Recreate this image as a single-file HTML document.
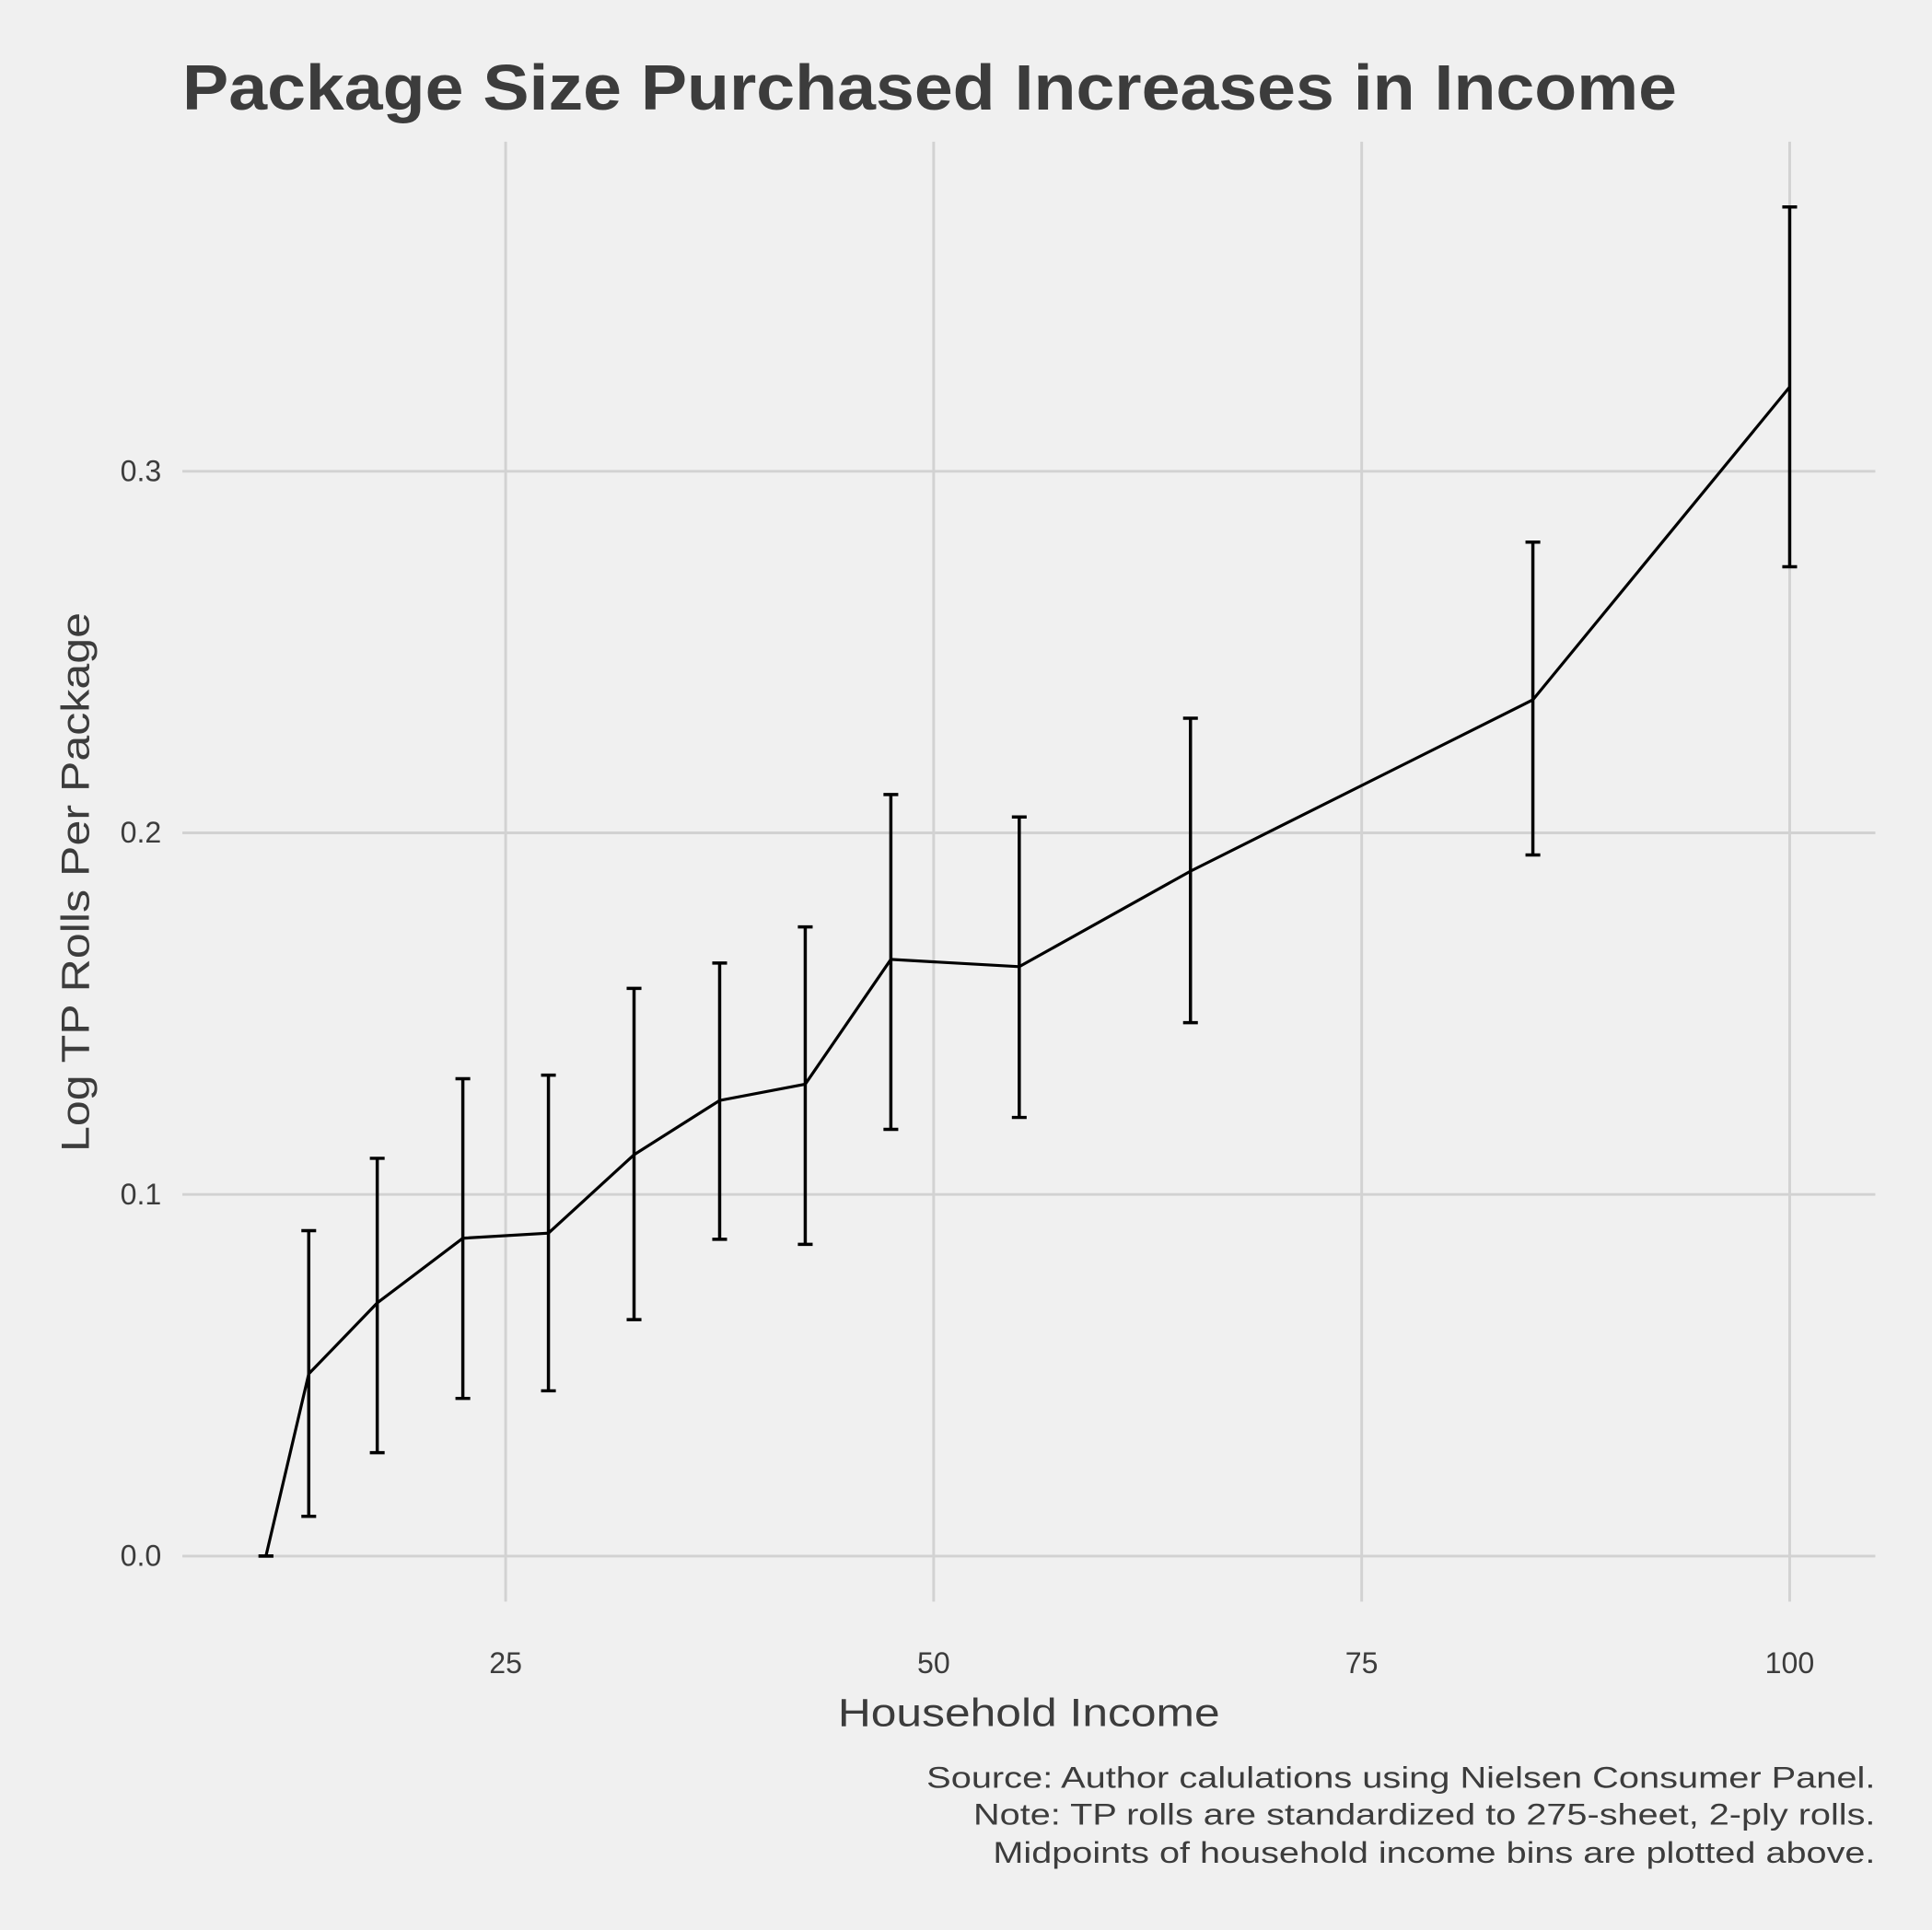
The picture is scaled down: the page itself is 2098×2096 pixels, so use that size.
<!DOCTYPE html>
<html><head><meta charset="utf-8"><style>
html,body{margin:0;padding:0;background:#f0f0f0;}
svg{display:block;font-family:"Liberation Sans",sans-serif;}
</style></head><body>
<svg id="chart" width="2098" height="2096" viewBox="0 0 1568 1566.5" xmlns="http://www.w3.org/2000/svg">
<rect x="0" y="0" width="1568" height="1567" fill="#f0f0f0"/>
<text x="148" y="89" font-size="52" font-weight="bold" fill="#3c3c3c" textLength="1213" lengthAdjust="spacingAndGlyphs">Package Size Purchased Increases in Income</text>
<g id="grid"></g>
<g id="marks"></g>
<text x="835" y="1401" font-size="32" fill="#3c3c3c" text-anchor="middle" textLength="310" lengthAdjust="spacingAndGlyphs">Household Income</text>
<text transform="translate(72,716) rotate(-90)" font-size="32" fill="#3c3c3c" text-anchor="middle" textLength="438" lengthAdjust="spacingAndGlyphs">Log TP Rolls Per Package</text>
<g font-size="24" fill="#3c3c3c" text-anchor="end">
<text x="1522" y="1451" textLength="770" lengthAdjust="spacingAndGlyphs">Source: Author calulations using Nielsen Consumer Panel.</text>
<text x="1522" y="1481" textLength="732" lengthAdjust="spacingAndGlyphs">Note: TP rolls are standardized to 275-sheet, 2-ply rolls.</text>
<text x="1522" y="1512" textLength="716" lengthAdjust="spacingAndGlyphs">Midpoints of household income bins are plotted above.</text>
</g>
</svg>
<script>
const incomes=[11,13.5,17.5,22.5,27.5,32.5,37.5,42.5,47.5,55,65,85,100];
const means=[0,0.0504,0.070,0.0879,0.0893,0.111,0.126,0.1305,0.165,0.163,0.1894,0.2368,0.3233];
const uppers=[0,0.090,0.110,0.132,0.133,0.157,0.164,0.174,0.2106,0.2044,0.2317,0.2804,0.3731];
const lowers=[0,0.011,0.0286,0.0436,0.0457,0.0654,0.0876,0.0862,0.118,0.1213,0.1475,0.1939,0.2736];
const xTicks=[25,50,75,100];
const xTickLabels=["25","50","75","100"];
const yTicks=[0,0.1,0.2,0.3];
const yTickLabels=["0.0","0.1","0.2","0.3"];
const NS="http://www.w3.org/2000/svg";
const xs=v=>63+v*13.895;
const ys=v=>1263-v*2935;
function mk(tag,attrs,parent){const e=document.createElementNS(NS,tag);for(const k in attrs)e.setAttribute(k,attrs[k]);parent.appendChild(e);return e;}
const grid=document.getElementById('grid'),marks=document.getElementById('marks'),svg=document.getElementById('chart');
const L=148,R=1522,T=115,B=1300;
xTicks.forEach((t,i)=>{
 const l=mk('line',{x1:xs(t),x2:xs(t),y1:T,y2:B,stroke:'#d2d2d2','stroke-width':2.2},grid);
 
 
 const tx=mk('text',{x:xs(t),y:1358,'font-size':24,fill:'#3c3c3c','text-anchor':'middle'},svg);
 tx.textContent=xTickLabels[i];
 
 
});
yTicks.forEach((t,i)=>{
 const l=mk('line',{x1:L,x2:R,y1:ys(t),y2:ys(t),stroke:'#d2d2d2','stroke-width':2.2},grid);
 
 
 const tx=mk('text',{x:131,y:ys(t)+8,'font-size':24,fill:'#3c3c3c','text-anchor':'end'},svg);
 tx.textContent=yTickLabels[i];
 
 
});
const pts=incomes.map((v,i)=>xs(v)+','+ys(means[i])).join(' ');
const pl=mk('polyline',{points:pts,fill:'none',stroke:'#000','stroke-width':2.4},marks);


incomes.forEach((v,i)=>{
 const x=xs(v),yu=ys(uppers[i]),yl=ys(lowers[i]);
 const g=mk('g',{stroke:'#000','stroke-width':2.6},marks);
 
 
 mk('line',{x1:x,x2:x,y1:yu,y2:yl},g);
 mk('line',{x1:x-6,x2:x+6,y1:yu,y2:yu},g);
 mk('line',{x1:x-6,x2:x+6,y1:yl,y2:yl},g);
});
</script>
</body></html>
